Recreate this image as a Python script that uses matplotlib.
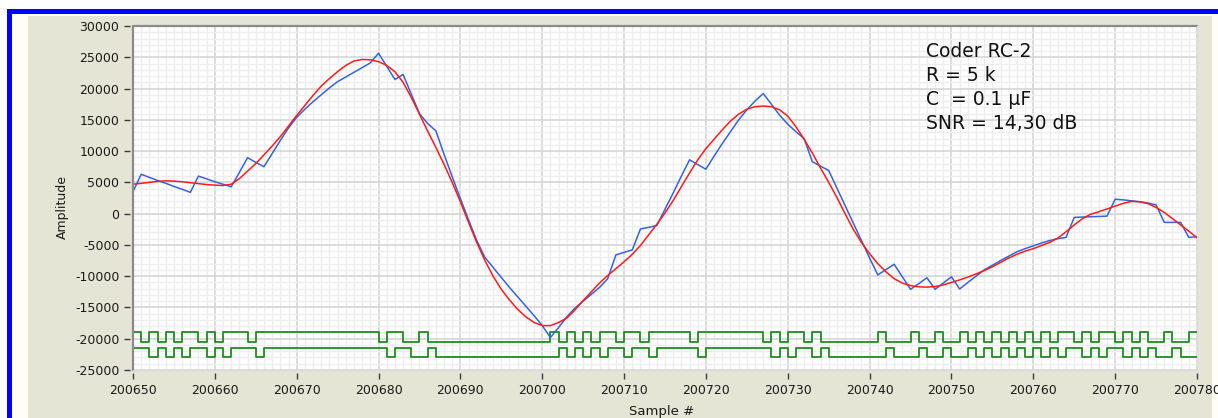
import numpy as np
import matplotlib.pyplot as plt
from matplotlib.patches import Rectangle
from matplotlib.ticker import MultipleLocator, FormatStrFormatter

# sample numbers start here, one value per sample
first_sample = 200650

# decoded signal (blue)
decoded = [3500, 6300, 5800, 5300, 4850, 4350, 3900, 3400, 6000, 5550,
           5100, 4700, 4300, 6600, 8950, 8200, 7500, 9600, 11700, 13700,
           15400, 16700, 17900, 19000, 20100, 21100, 21850, 22600, 23350, 24100,
           25650, 23550, 21450, 22250, 19100, 16000, 14400, 13250, 9500, 5900,
           2400, -1000, -4300, -7000, -8600, -10200, -11800, -13300, -14800, -16300,
           -17900, -19800, -18200, -16500, -15100, -14000, -12900, -11800, -10400, -6600,
           -6200, -5800, -2450, -2200, -1900, 700, 3300, 6000, 8600, 7850,
           7100, 9200, 11200, 13100, 15000, 16600, 18000, 19200, 17500, 15750,
           14300, 13100, 12000, 8300, 7600, 6900, 4100, 1300, -1500, -4300,
           -7100, -9800, -8950, -8100, -10100, -12100, -11200, -10250, -12100, -11100,
           -10100, -12050, -11000, -10000, -9000, -8250, -7500, -6800, -6100, -5600,
           -5150, -4700, -4300, -4000, -3800, -600, -550, -500, -450, -400,
           2300, 2200, 2050, 1900, 1700, 1400, -1400, -1400, -1400, -3800,
           -3700]

# original signal (red)
original = [4700, 4850, 5000, 5150, 5250, 5200, 5100, 4950, 4800, 4650,
            4550, 4500, 4700, 5600, 6800, 8000, 9400, 10800, 12300, 14000,
            15700, 17300, 18900, 20400, 21600, 22700, 23700, 24400, 24650, 24600,
            24300, 23700, 22700, 21000, 18600, 15900, 13200, 10600, 7900, 5000,
            1900, -1400, -4600, -7500, -10000, -12100, -13800, -15300, -16500, -17400,
            -17900, -17900, -17400, -16700, -15400, -13900, -12500, -11100, -9900, -8800,
            -7700, -6500, -5100, -3400, -1700, 100, 2100, 4300, 6500, 8600,
            10400, 11900, 13400, 14800, 15900, 16700, 17100, 17200, 17100, 16600,
            15600, 13900, 11900, 9700, 7300, 5000, 2600, 0, -2500, -4600,
            -6400, -8000, -9300, -10400, -11100, -11500, -11700, -11750, -11650, -11400,
            -11000, -10600, -10150, -9650, -9100, -8500, -7800, -7100, -6500, -6000,
            -5600, -5100, -4600, -3900, -2900, -1800, -800, -100, 300, 750,
            1200, 1650, 1950, 1900, 1600, 1000, 200, -800, -1800, -2800,
            -3850]

# coder bit streams, one bit per sample
bits_a = ("1010101101" "0111011111" "1111111111" "0110010000" "0000000000"
          "0101010110" "1101111101" "1111111010" "1101000000" "0100010010"
          "0101010101" "0101101011" "0101001001")
bits_b = ("1101010110" "1011101111" "1111111111" "1011001000" "0000000000"
          "0010101011" "0110111110" "1111111101" "0110100000" "0010001001"
          "0010101010" "1010110101" "1010100100")
levels_a = (-19000, -20500)
levels_b = (-21500, -23000)

info_lines = ["Coder RC-2", "R = 5 k", "C  = 0.1 µF", "SNR = 14,30 dB"]

W, H = 1218, 418
fig = plt.figure(figsize=(W / 100, H / 100), dpi=100, facecolor="white")


def px_rect(x0, y0, x1, y1, color):
    fig.add_artist(Rectangle((x0 / W, 1 - y1 / H), (x1 - x0) / W, (y1 - y0) / H,
                             transform=fig.transFigure, facecolor=color,
                             edgecolor="none", zorder=-10))


# window frame
px_rect(7, 9, W, H, "#0000ff")
px_rect(12, 14, W, H, "#fffdf4")
px_rect(28, 16, 1212, H, "#e5e5d6")

ax = fig.add_axes([133 / W, 1 - 370 / H, (1197 - 133) / W, (370 - 26) / H])
ax.set_facecolor("white")

x = np.arange(first_sample, first_sample + len(decoded))

for bits, (hi, lo) in [(bits_a, levels_a), (bits_b, levels_b)]:
    b = np.array([int(c) for c in bits])
    lev = np.where(b == 1, hi, lo)
    xs = np.arange(first_sample, first_sample + len(b) + 1)
    ax.step(xs, np.append(lev, lev[-1]), where="post", color="#1e8c1e", lw=1.3, zorder=3)

ax.plot(x, decoded, color="#3463dc", lw=1.1, zorder=4)
ax.plot(x, original, color="#ff1a1a", lw=1.1, zorder=5)

ax.set_xlim(200650, 200780)
ax.set_ylim(-25000, 30000)
ax.xaxis.set_major_locator(MultipleLocator(10))
ax.xaxis.set_minor_locator(MultipleLocator(1))
ax.yaxis.set_major_locator(MultipleLocator(5000))
ax.yaxis.set_minor_locator(MultipleLocator(1000))
ax.xaxis.set_major_formatter(FormatStrFormatter("%d"))
ax.yaxis.set_major_formatter(FormatStrFormatter("%d"))

ax.grid(which="minor", color="#ededed", lw=1.0, zorder=0)
ax.grid(which="major", color="#d6d6d6", lw=1.2, zorder=1)
ax.set_axisbelow(True)

# ticks sit a little away from the plot frame
for side in ["left", "bottom"]:
    ax.spines[side].set_position(("outward", 2.5))
    ax.spines[side].set_color("none")
for side in ["right", "top"]:
    ax.spines[side].set_visible(False)
ax.plot([0, 0, 1], [0, 1, 1], transform=ax.transAxes, color="#8a8a8a", lw=1.6,
        clip_on=False, zorder=6)
ax.plot([0, 1, 1], [0, 0, 1], transform=ax.transAxes, color="#dcdcdc", lw=0.8,
        clip_on=False, zorder=6)

ax.tick_params(which="major", direction="out", length=4.3, width=1.0,
               color="#3a3a3a", labelcolor="#1a1a1a", labelsize=9, pad=3)
ax.tick_params(which="minor", length=0)

fig.text(662 / W, 1 - 415 / H, "Sample #", ha="center", va="baseline",
         fontsize=9.5, color="#1a1a1a")
fig.text(62 / W, 1 - 207 / H, "Amplitude", ha="center", va="center",
         rotation=90, fontsize=9, color="#1a1a1a")

for i, line in enumerate(info_lines):
    fig.text(926 / W, 1 - (56.7 + 24.1 * i) / H, line, ha="left", va="baseline",
             fontsize=13.5, color="#111111")

fig.savefig("out.png", dpi=100, facecolor=fig.get_facecolor())
